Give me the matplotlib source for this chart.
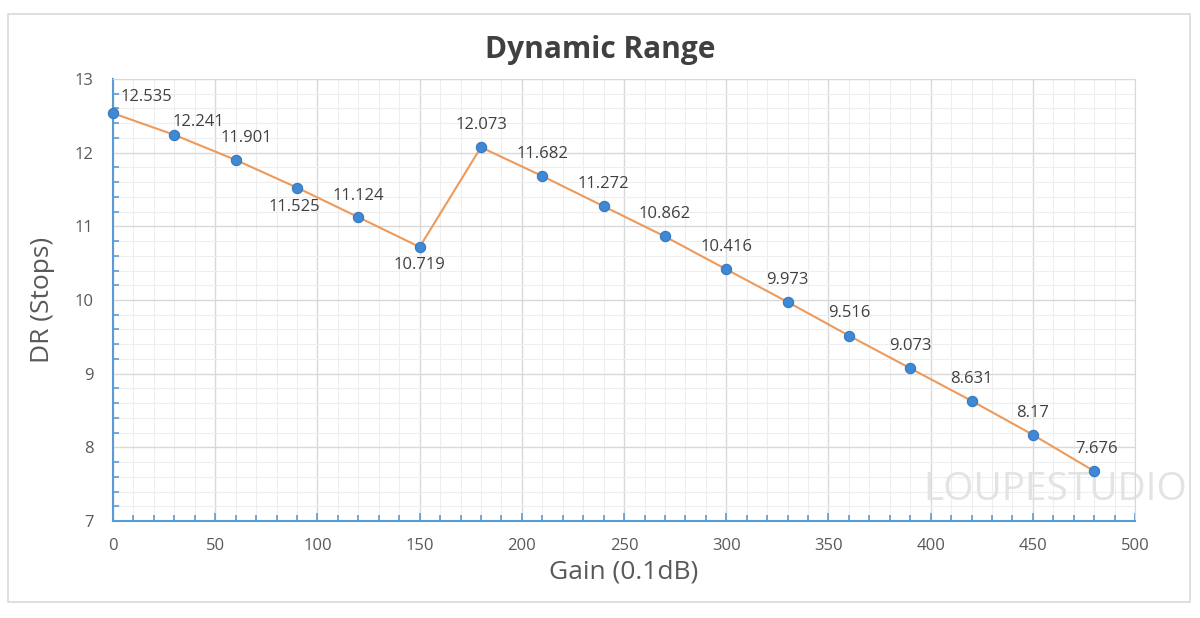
import matplotlib
matplotlib.use('Agg')
import matplotlib.pyplot as plt
from matplotlib.ticker import MultipleLocator
from matplotlib.patches import Rectangle

plt.rcParams['font.family'] = ['Open Sans', 'DejaVu Sans']

# data
gain = [0, 30, 60, 90, 120, 150, 180, 210, 240, 270, 300, 330, 360, 390, 420, 450, 480]
dr = [12.535, 12.241, 11.901, 11.525, 11.124, 10.719, 12.073, 11.682, 11.272,
      10.862, 10.416, 9.973, 9.516, 9.073, 8.631, 8.17, 7.676]
labels = ['12.535', '12.241', '11.901', '11.525', '11.124', '10.719', '12.073', '11.682',
          '11.272', '10.862', '10.416', '9.973', '9.516', '9.073', '8.631', '8.17', '7.676']

# label offsets in points (dx, dy)
offs = [(24, 12), (17, 9), (8, 16), (-2, -14), (0, 15), (0, -13), (0, 16), (0, 16),
        (0, 16), (0, 16), (0, 16), (0, 16), (0, 16), (0, 16), (0, 16), (0, 16), (2, 16)]

blue = '#5B9BD5'
orange = '#ED9A5A'
tcol = '#595959'

fig = plt.figure(figsize=(12, 6.18), dpi=100)
fig.patches.append(Rectangle((8 / 1200, 1 - 602 / 618), 1182 / 1200, 588 / 618,
                             transform=fig.transFigure, fill=False,
                             edgecolor='#D9D9D9', linewidth=1.2))

ax = fig.add_axes([0.0942, 0.157, 0.8517, 0.7152])
ax.set_xlim(0, 500)
ax.set_ylim(7, 13)
ax.xaxis.set_major_locator(MultipleLocator(50))
ax.xaxis.set_minor_locator(MultipleLocator(10))
ax.yaxis.set_major_locator(MultipleLocator(1))
ax.yaxis.set_minor_locator(MultipleLocator(0.2))
ax.grid(which='major', color='#D9D9D9', linewidth=1.0)
ax.grid(which='minor', color='#EEEEEE', linewidth=0.8)
ax.set_axisbelow(True)

for s in ['top', 'right']:
    ax.spines[s].set_color('#D9D9D9')
for s in ['left', 'bottom']:
    ax.spines[s].set_color(blue)
    ax.spines[s].set_linewidth(1.5)

ax.tick_params(which='both', direction='in', color=blue, width=1.2)
ax.tick_params(which='major', length=6, labelsize=12, labelcolor=tcol, pad=10)
ax.tick_params(which='minor', length=4)
ax.tick_params(axis='y', which='both', length=0)
ax.tick_params(axis='y', which='minor', length=4, left=True, direction='in')
ax.tick_params(axis='y', pad=14)
ax.tick_params(axis='x', pad=12)

ax.plot(gain, dr, color=orange, linewidth=1.5, zorder=3)
ax.scatter(gain, dr, s=55, color='#3F88D4', edgecolor='#3578C0', linewidth=0.8, zorder=4,
           clip_on=False)

for x, y, t, (dx, dy) in zip(gain, dr, labels, offs):
    ax.annotate(t, (x, y), xytext=(dx, dy), textcoords='offset points',
                ha='center', va='center', fontsize=12, color='#404040', zorder=5)

# watermark
ax.text(1055 / 1200, 1 - 490 / 618, 'LOUPESTUDIO', transform=fig.transFigure,
        ha='center', va='center', fontsize=28, color='#E3E3E3', zorder=2, clip_on=False)

fig.text(0.5, 1 - 50 / 618, 'Dynamic Range', ha='center', va='center',
         fontsize=21.5, fontweight='bold', color='#404040')
ax.set_xlabel('Gain (0.1dB)', fontsize=19, color=tcol, labelpad=4)
ax.set_ylabel('DR (Stops)', fontsize=19, color=tcol, labelpad=14)

fig.savefig('out.png', dpi=100, facecolor='white')
